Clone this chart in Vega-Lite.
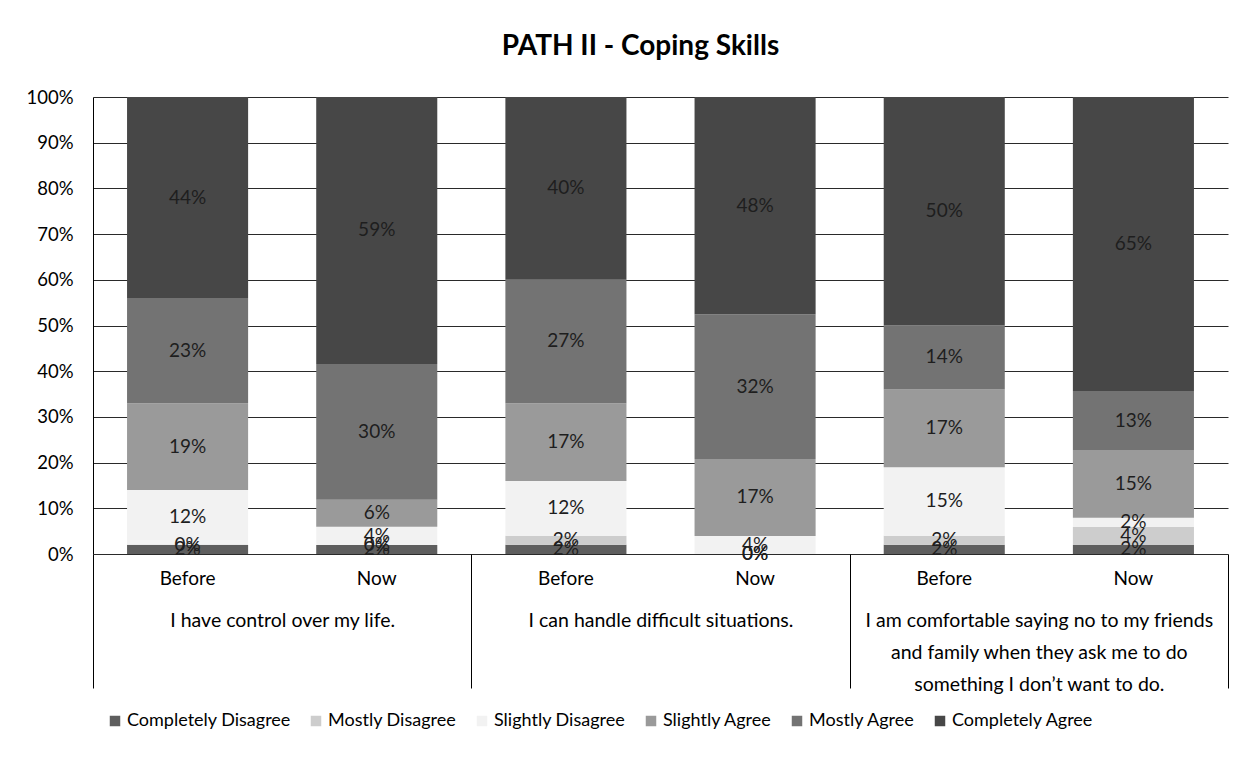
{
  "$schema": "https://vega.github.io/schema/vega-lite/v6.json",
  "width": 1135,
  "height": 457,
  "autosize": {"type": "none"},
  "padding": {"left": 93, "top": 97, "right": 27, "bottom": 203},
  "background": "white",
  "title": {"text": "PATH II - Coping Skills", "font": "Lato", "fontSize": 28, "fontWeight": "bold", "color": "#000000", "anchor": "middle", "offset": 27, "dx": -20},
  "config": {"view": {"stroke": null}, "font": "Lato"},
  "layer": [
    {
      "data": {"values": [
        {"key": "1|Before", "cat": "Completely Disagree", "k": 1, "v": 0.02},
        {"key": "1|Before", "cat": "Mostly Disagree", "k": 2, "v": 0.0},
        {"key": "1|Before", "cat": "Slightly Disagree", "k": 3, "v": 0.12},
        {"key": "1|Before", "cat": "Slightly Agree", "k": 4, "v": 0.19},
        {"key": "1|Before", "cat": "Mostly Agree", "k": 5, "v": 0.23},
        {"key": "1|Before", "cat": "Completely Agree", "k": 6, "v": 0.44},
        {"key": "1|Now", "cat": "Completely Disagree", "k": 1, "v": 0.02},
        {"key": "1|Now", "cat": "Mostly Disagree", "k": 2, "v": 0.0},
        {"key": "1|Now", "cat": "Slightly Disagree", "k": 3, "v": 0.04},
        {"key": "1|Now", "cat": "Slightly Agree", "k": 4, "v": 0.06},
        {"key": "1|Now", "cat": "Mostly Agree", "k": 5, "v": 0.30},
        {"key": "1|Now", "cat": "Completely Agree", "k": 6, "v": 0.59},
        {"key": "2|Before", "cat": "Completely Disagree", "k": 1, "v": 0.02},
        {"key": "2|Before", "cat": "Mostly Disagree", "k": 2, "v": 0.02},
        {"key": "2|Before", "cat": "Slightly Disagree", "k": 3, "v": 0.12},
        {"key": "2|Before", "cat": "Slightly Agree", "k": 4, "v": 0.17},
        {"key": "2|Before", "cat": "Mostly Agree", "k": 5, "v": 0.27},
        {"key": "2|Before", "cat": "Completely Agree", "k": 6, "v": 0.40},
        {"key": "2|Now", "cat": "Completely Disagree", "k": 1, "v": 0.0},
        {"key": "2|Now", "cat": "Mostly Disagree", "k": 2, "v": 0.0},
        {"key": "2|Now", "cat": "Slightly Disagree", "k": 3, "v": 0.04},
        {"key": "2|Now", "cat": "Slightly Agree", "k": 4, "v": 0.17},
        {"key": "2|Now", "cat": "Mostly Agree", "k": 5, "v": 0.32},
        {"key": "2|Now", "cat": "Completely Agree", "k": 6, "v": 0.48},
        {"key": "3|Before", "cat": "Completely Disagree", "k": 1, "v": 0.02},
        {"key": "3|Before", "cat": "Mostly Disagree", "k": 2, "v": 0.02},
        {"key": "3|Before", "cat": "Slightly Disagree", "k": 3, "v": 0.15},
        {"key": "3|Before", "cat": "Slightly Agree", "k": 4, "v": 0.17},
        {"key": "3|Before", "cat": "Mostly Agree", "k": 5, "v": 0.14},
        {"key": "3|Before", "cat": "Completely Agree", "k": 6, "v": 0.50},
        {"key": "3|Now", "cat": "Completely Disagree", "k": 1, "v": 0.02},
        {"key": "3|Now", "cat": "Mostly Disagree", "k": 2, "v": 0.04},
        {"key": "3|Now", "cat": "Slightly Disagree", "k": 3, "v": 0.02},
        {"key": "3|Now", "cat": "Slightly Agree", "k": 4, "v": 0.15},
        {"key": "3|Now", "cat": "Mostly Agree", "k": 5, "v": 0.13},
        {"key": "3|Now", "cat": "Completely Agree", "k": 6, "v": 0.65}
      ]},
      "layer": [
        {
          "mark": {"type": "bar"},
          "encoding": {
            "x": {"field": "key", "type": "nominal", "sort": null,
              "scale": {"paddingInner": 0.36, "paddingOuter": 0.18},
              "axis": {"title": null, "ticks": false, "domain": false, "grid": false, "labelAngle": 0, "labelPadding": 15, "labelFontSize": 19, "labelColor": "#000000", "labelExpr": "split(datum.label,'|')[1]"}},
            "y": {"field": "v", "type": "quantitative", "stack": "normalize",
              "scale": {"domain": [0, 1]},
              "axis": {"title": null, "values": [0, 0.1, 0.2, 0.3, 0.4, 0.5, 0.6, 0.7, 0.8, 0.9, 1], "format": ".0%", "grid": true, "gridColor": "#2a2a2a", "gridWidth": 1, "ticks": false, "domain": true, "domainColor": "#000000", "labelPadding": 20, "labelFontSize": 18.5, "labelColor": "#000000"}},
            "color": {"field": "cat", "type": "nominal",
              "scale": {"domain": ["Completely Disagree", "Mostly Disagree", "Slightly Disagree", "Slightly Agree", "Mostly Agree", "Completely Agree"],
                        "range": ["#5e5e5e", "#cdcdcd", "#f2f2f2", "#9a9a9a", "#737373", "#474747"]},
              "legend": {"orient": "none", "legendX": 13, "legendY": 615, "direction": "horizontal", "columns": 6, "title": null, "symbolType": "square", "symbolSize": 110, "symbolStrokeWidth": 0, "labelFontSize": 18, "labelColor": "#000000", "labelLimit": 400, "columnPadding": 16, "labelOffset": 3}},
            "order": {"field": "k", "type": "quantitative"}
          }
        },
        {
          "mark": {"type": "text", "font": "Lato", "fontSize": 19, "color": "#1e1e1e"},
          "encoding": {
            "x": {"field": "key", "type": "nominal", "sort": null},
            "y": {"field": "v", "type": "quantitative", "stack": "normalize", "bandPosition": 0.5},
            "detail": {"field": "cat"},
            "order": {"field": "k", "type": "quantitative"},
            "text": {"field": "v", "type": "quantitative", "format": ".0%"}
          }
        }
      ]
    },
    {
      "data": {"values": [
        {"grp": "I have control over my life."},
        {"grp": "I can handle difficult situations."},
        {"grp": "I am comfortable saying no to my friends|and family when they ask me to do|something I don’t want to do."}
      ]},
      "mark": {"type": "rule", "opacity": 0},
      "encoding": {
        "x": {"field": "grp", "type": "nominal", "sort": null,
          "scale": {"paddingInner": 0, "paddingOuter": 0},
          "axis": {"title": null, "orient": "bottom", "tickBand": "extent", "ticks": true, "tickSize": 134, "tickColor": "#000000", "tickWidth": 1, "domain": false, "grid": false, "labelAngle": 0, "labelPadding": -77, "labelFontSize": 19.5, "labelColor": "#000000", "labelLimit": 500, "labelLineHeight": 32, "labelBaseline": "top", "labelExpr": "split(datum.label,'|')"}}
      }
    }
  ],
  "resolve": {"scale": {"x": "independent"}, "axis": {"x": "independent"}}
}
